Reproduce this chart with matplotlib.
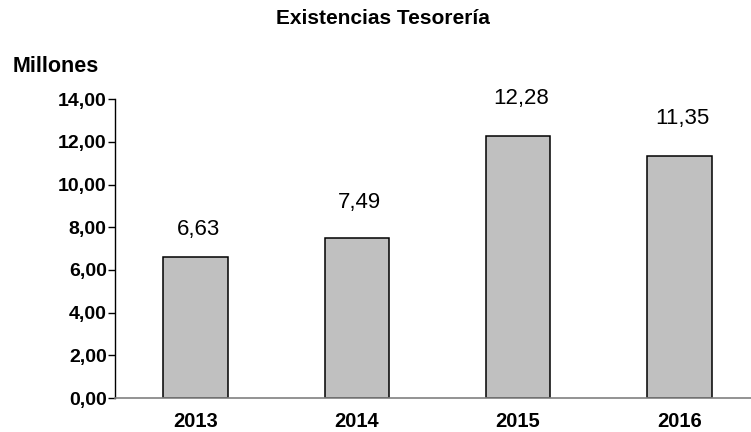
import matplotlib
matplotlib.use("Agg")
import matplotlib.pyplot as plt

years = ["2013", "2014", "2015", "2016"]
values = [6.63, 7.49, 12.28, 11.35]
value_labels = ["6,63", "7,49", "12,28", "11,35"]
y_ticks = [0, 2, 4, 6, 8, 10, 12, 14]
y_tick_labels = ["0,00", "2,00", "4,00", "6,00", "8,00", "10,00", "12,00", "14,00"]

plt.rcParams['font.family'] = ['Liberation Sans', 'DejaVu Sans']

fig = plt.figure(figsize=(7.51, 4.32), dpi=100)
ax = fig.add_axes([115/751, 34/432, 645/751, 298.7/432])

x = list(range(len(years)))
ax.bar(x, values, width=0.40, color="#C0C0C0", edgecolor="black", linewidth=1.1)

ax.set_xlim(-0.5, 3.5)
ax.set_ylim(0, 14)
ax.set_yticks(y_ticks)
ax.set_yticklabels(y_tick_labels, fontsize=14, fontweight="bold")
ax.set_xticks(x)
ax.set_xticklabels(years, fontsize=14.5, fontweight="bold")
ax.tick_params(axis="x", length=0, pad=10)
ax.tick_params(axis="y", length=5, width=1, pad=1, direction="out")

for s in ["top", "right"]:
    ax.spines[s].set_visible(False)
ax.spines["left"].set_color("black")
ax.spines["left"].set_linewidth(1)
ax.spines["bottom"].set_color("#808080")
ax.spines["bottom"].set_linewidth(1.2)

offsets = [27, 36, 37, 37]
for xi, v, lab, off in zip(x, values, value_labels, offsets):
    ax.annotate(lab, (xi, v), xytext=(2, off * 0.72), textcoords="offset points",
                ha="center", va="center", fontsize=16)

fig.text(383/751, 1 - 19/432, "Existencias Tesorería", ha="center", va="center",
         fontsize=15, fontweight="bold")
fig.text(13/751, 1 - 72/432, "Millones", ha="left", va="baseline",
         fontsize=15.5, fontweight="bold")

fig.savefig("out.png", dpi=100)
